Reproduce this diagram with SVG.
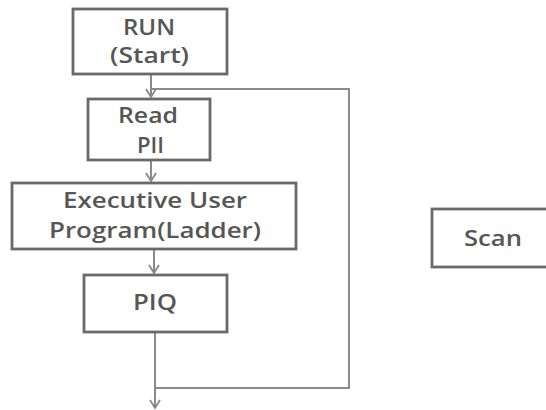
<svg xmlns="http://www.w3.org/2000/svg" width="546" height="410" viewBox="0 0 546 410">
<defs>
<marker id="arr" viewBox="0 0 10 12" refX="9" refY="6" markerWidth="10" markerHeight="12" markerUnits="userSpaceOnUse" orient="auto">
<path d="M1,1 L9,6 L1,11" fill="none" stroke="#888" stroke-width="1.8"/>
</marker>
<style>
.box{fill:#fff;stroke:#6a6a6a;stroke-width:2.8}
.t{font-family:"Open Sans","DejaVu Sans",sans-serif;font-size:22px;font-weight:600;fill:#565656;text-anchor:middle}
.c{fill:none;stroke:#8a8a8a;stroke-width:2}
</style>
</defs>
<rect width="546" height="410" fill="#fff"/>
<g id="connectors">
<path class="c" d="M151,75 V97" marker-end="url(#arr)"/>
<path class="c" d="M151,89 H349 V388 H155"/>
<path class="c" d="M151,161 V181" marker-end="url(#arr)"/>
<path class="c" d="M154,250 V273" marker-end="url(#arr)"/>
<path class="c" d="M155,333 V408" marker-end="url(#arr)"/>
</g>
<g id="run">
<rect class="box" x="73" y="9" width="154" height="65"/>
<text class="t" x="149" y="35" textLength="52" lengthAdjust="spacingAndGlyphs">RUN</text>
<text class="t" x="149.5" y="63" textLength="79" lengthAdjust="spacingAndGlyphs">(Start)</text>
</g>
<g id="read">
<rect class="box" x="88" y="99" width="122" height="61"/>
<text class="t" x="148" y="123" textLength="60" lengthAdjust="spacingAndGlyphs">Read</text>
<text class="t" x="150.5" y="153" textLength="27" lengthAdjust="spacingAndGlyphs">PII</text>
</g>
<g id="exec">
<rect class="box" x="12" y="183" width="284" height="66"/>
<text class="t" x="155" y="208" textLength="184" lengthAdjust="spacingAndGlyphs">Executive User</text>
<text class="t" x="155" y="238" textLength="212" lengthAdjust="spacingAndGlyphs">Program(Ladder)</text>
</g>
<g id="piq">
<rect class="box" x="84" y="275" width="143" height="57"/>
<text class="t" x="155" y="310" textLength="44" lengthAdjust="spacingAndGlyphs">PIQ</text>
</g>
<g id="scan">
<rect class="box" x="432" y="209" width="116" height="58"/>
<text class="t" x="493" y="246" textLength="58" lengthAdjust="spacingAndGlyphs">Scan</text>
</g>
</svg>
